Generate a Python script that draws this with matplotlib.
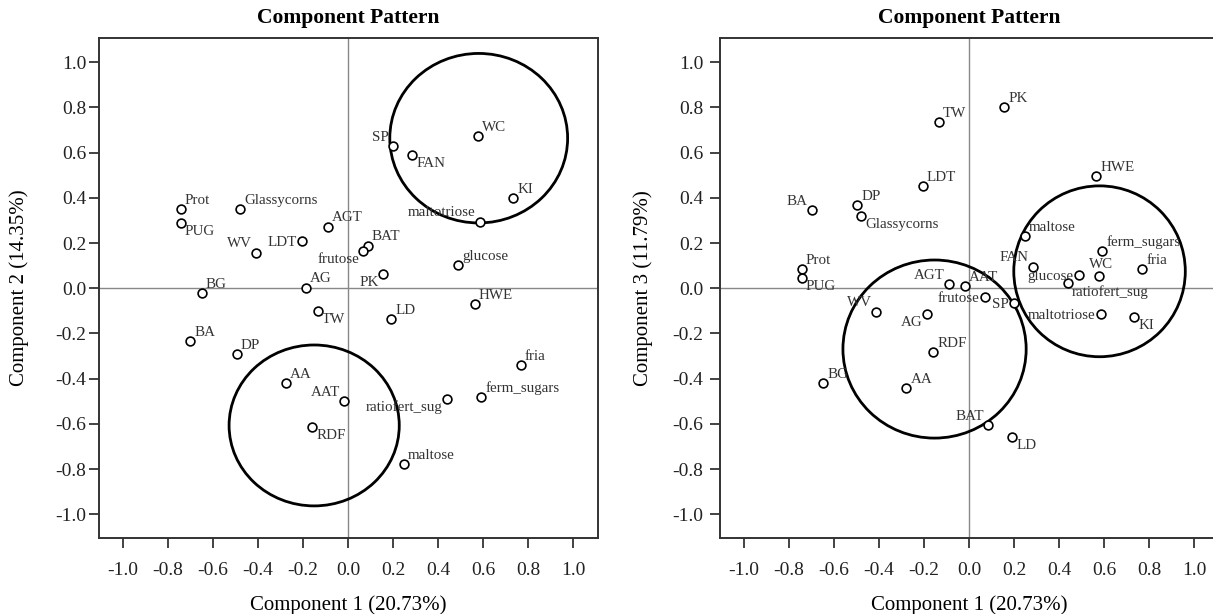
import numpy as np
import matplotlib.pyplot as plt
from matplotlib.patches import Ellipse

plt.rcParams['font.family'] = ['Liberation Serif', 'DejaVu Serif']

# Component 1 vs Component 2 loadings
names_12 = ['Prot', 'PUG', 'Glassycorns', 'WV', 'LDT', 'AGT', 'BG', 'AG', 'TW',
            'SP', 'FAN', 'WC', 'KI', 'maltotriose', 'BAT', 'frutose', 'glucose',
            'PK', 'HWE', 'LD', 'BA', 'DP', 'AA', 'AAT', 'RDF', 'ratiofert_sug',
            'ferm_sugars', 'fria', 'maltose']
comp1_12 = [-0.744, -0.744, -0.479, -0.41, -0.204, -0.09, -0.65, -0.187, -0.136,
            0.201, 0.284, 0.575, 0.732, 0.585, 0.087, 0.067, 0.487,
            0.157, 0.562, 0.19, -0.702, -0.496, -0.276, -0.019, -0.159, 0.439,
            0.591, 0.767, 0.247]
comp2_12 = [0.35, 0.288, 0.351, 0.158, 0.208, 0.273, -0.021, 0.003, -0.1,
            0.63, 0.588, 0.674, 0.398, 0.295, 0.189, 0.165, 0.104,
            0.063, -0.071, -0.137, -0.232, -0.292, -0.42, -0.499, -0.612, -0.488,
            -0.482, -0.341, -0.777]
pos_12 = ['ur', 'lr', 'ur', 'ul', 'l', 'ur', 'ur', 'ur', 'lr',
          'ul', 'lr', 'ur', 'ur', 'ul', 'ur', 'll', 'ur',
          'll', 'ur', 'ur', 'ur', 'ur', 'ur', 'ul', 'lr', 'll',
          'ur', 'ur', 'ur']

# Component 1 vs Component 3 loadings
names_13 = ['BA', 'DP', 'Glassycorns', 'LDT', 'TW', 'PK', 'Prot', 'PUG', 'WV',
            'AG', 'HWE', 'maltose', 'ferm_sugars', 'FAN', 'fria', 'WC', 'glucose',
            'ratiofert_sug', 'AGT', 'AAT', 'frutose', 'SP', 'maltotriose', 'KI',
            'BG', 'AA', 'RDF', 'BAT', 'LD']
comp1_13 = [-0.699, -0.498, -0.479, -0.206, -0.136, 0.154, -0.744, -0.744, -0.412,
            -0.187, 0.563, 0.247, 0.591, 0.283, 0.769, 0.575, 0.487,
            0.439, -0.089, -0.019, 0.071, 0.2, 0.585, 0.733,
            -0.65, -0.279, -0.16, 0.084, 0.19]
comp3_13 = [0.345, 0.369, 0.32, 0.453, 0.735, 0.8, 0.084, 0.046, -0.103,
            -0.114, 0.498, 0.231, 0.166, 0.096, 0.085, 0.056, 0.059,
            0.022, 0.019, 0.01, -0.04, -0.066, -0.115, -0.128,
            -0.42, -0.441, -0.282, -0.606, -0.659]
pos_13 = ['ul', 'ur', 'lr', 'ur', 'ur', 'ur', 'ur', 'lr', 'ul',
          'll', 'ur', 'ur', 'ur', 'ul', 'ur', 'uc', 'l',
          'lr', 'ul', 'ur', 'l', 'l', 'l', 'lr',
          'ur', 'ur', 'ur', 'ul', 'lr']

# hand-drawn groupings: (centre x, centre y, width, height)
groups_12 = [(0.58, 0.664, 0.79, 0.75), (-0.151, -0.607, 0.756, 0.712)]
groups_13 = [(-0.154, -0.269, 0.814, 0.788), (0.579, 0.075, 0.762, 0.756)]

offsets = {
    'ur': ((3, 1.5), 'left', 'bottom'),
    'lr': ((3, -1.5), 'left', 'top'),
    'ul': ((-3, 1.5), 'right', 'bottom'),
    'll': ((-3, -1.5), 'right', 'top'),
    'l': ((-4, -1), 'right', 'center'),
    'uc': ((2, 3), 'center', 'bottom'),
}

fig = plt.figure(figsize=(12.13, 6.14), dpi=100)
ax1 = fig.add_axes([0.0816, 0.1238, 0.4114, 0.8142])
ax2 = fig.add_axes([0.5936, 0.1238, 0.4114, 0.8142])


def fmt(t):
    return f'{t + 0.0:.1f}' if abs(t) > 1e-9 else '0.0'


def draw_panel(ax, xs, ys, names, pos, groups, ylabel, ypad, ylabpad):
    ax.axhline(0, color='#888888', lw=1.0, zorder=1)
    ax.axvline(0, color='#888888', lw=1.0, zorder=1)
    ax.scatter(xs, ys, s=40, facecolors='white', edgecolors='black',
               linewidths=1.2, zorder=3)
    for x, y, n, p in zip(xs, ys, names, pos):
        off, ha, va = offsets[p]
        ax.annotate(n, (x, y), xytext=off, textcoords='offset points',
                    ha=ha, va=va, fontsize=10.8, color='#333333', zorder=4)
    for cx, cy, w, h in groups:
        ax.add_patch(Ellipse((cx, cy), w, h, fill=False, ec='black',
                             lw=2.0, zorder=2))
    ax.set_xlim(-1.107, 1.11)
    ax.set_ylim(-1.105, 1.107)
    ticks = np.round(np.arange(-1.0, 1.01, 0.2), 1)
    ax.set_xticks(ticks)
    ax.set_yticks(ticks)
    ax.set_xticklabels([fmt(t) for t in ticks])
    ax.set_yticklabels([fmt(t) for t in ticks])
    ax.tick_params(direction='out', length=7, width=1.2, labelsize=14,
                   colors='#222222')
    ax.tick_params(axis='x', pad=10)
    ax.tick_params(axis='y', pad=ypad)
    for side in ['top', 'right', 'left', 'bottom']:
        ax.spines[side].set_linewidth(1.4)
        ax.spines[side].set_color('#333333')
    ax.set_title('Component Pattern', fontsize=15.5, fontweight='bold', pad=11)
    ax.set_xlabel('Component 1 (20.73%)', fontsize=15, labelpad=12)
    ax.set_ylabel(ylabel, fontsize=15, labelpad=ylabpad)


draw_panel(ax1, comp1_12, comp2_12, names_12, pos_12, groups_12,
           'Component 2 (14.35%)', 2, 19)
draw_panel(ax2, comp1_13, comp3_13, names_13, pos_13, groups_13,
           'Component 3 (11.79%)', 5, 14)

plt.savefig('out.png', dpi=100)
